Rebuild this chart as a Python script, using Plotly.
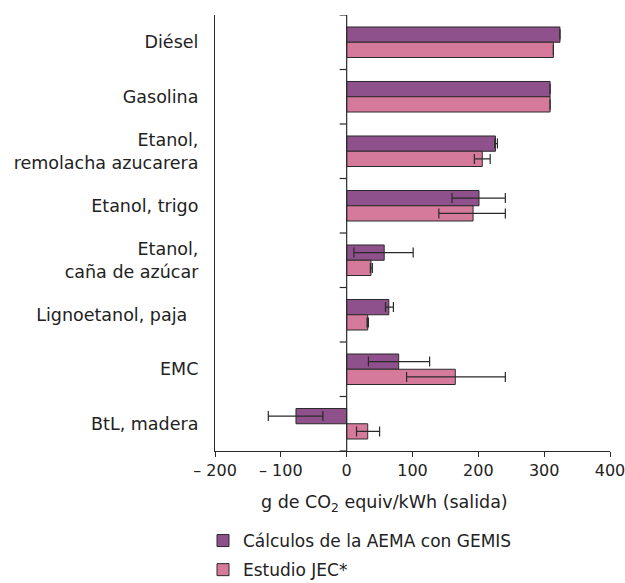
import plotly.graph_objects as go

# Categories, top to bottom
categories = [
    "Diésel",
    "Gasolina",
    "Etanol,<br>remolacha azucarera",
    "Etanol, trigo",
    "Etanol,<br>caña de azúcar",
    "Lignoetanol, paja\u00a0\u00a0",
    "EMC",
    "BtL, madera",
]

# g CO2 equiv/kWh (output)
aema_values = [324, 309, 226, 201, 57, 64, 79, -77]
aema_low = [324, 309, 225, 160, 11, 59, 33, -119]
aema_high = [324, 309, 229, 241, 101, 71, 126, -36]

jec_values = [314, 309, 206, 192, 37, 32, 165, 32]
jec_low = [314, 309, 194, 140, 36, 31, 91, 15]
jec_high = [314, 309, 218, 241, 39, 33, 241, 50]

x_tick_vals = [-200, -100, 0, 100, 200, 300, 400]
x_tick_text = ["– 200", "– 100", "0", "100", "200", "300", "400"]

series_names = ["Cálculos de la AEMA con GEMIS", "Estudio JEC*"]
colors = ["#8e518b", "#d67a9c"]
ink = "#2a2a2a"
font_family = "DejaVu Sans, Verdana, sans-serif"
label_size = 17.5


def err(values, low, high):
    plus = [h - v for v, h in zip(values, high)]
    minus = [v - l for v, l in zip(values, low)]
    show = any(p > 0 or m > 0 for p, m in zip(plus, minus))
    return dict(type="data", array=plus, arrayminus=minus, symmetric=False,
                color=ink, thickness=1.2, width=5, visible=show)


fig = go.Figure()
for name, vals, lo, hi, col in [
    (series_names[0], aema_values, aema_low, aema_high, colors[0]),
    (series_names[1], jec_values, jec_low, jec_high, colors[1]),
]:
    fig.add_trace(go.Bar(
        y=categories, x=vals, orientation="h", name=name, legendgroup=name,
        marker=dict(color=col, line=dict(color=ink, width=1)),
        error_x=err(vals, lo, hi),
    ))

# Zero line acting as the category axis, with ticks at category boundaries
n = len(categories)
fig.add_shape(type="line", xref="x", yref="y", x0=0, x1=0, y0=-0.5, y1=n - 0.5,
              line=dict(color=ink, width=1.2), layer="above")
for k in range(n + 1):
    fig.add_shape(type="line", xref="x", yref="y", xsizemode="pixel", xanchor=0,
                  x0=-7, x1=0, y0=k - 0.5, y1=k - 0.5,
                  line=dict(color=ink, width=1.2), layer="above")

fig.update_layout(
    width=625, height=583,
    margin=dict(l=215, r=15, t=15, b=132, autoexpand=False),
    paper_bgcolor="white", plot_bgcolor="white",
    barmode="group", bargap=0.44, bargroupgap=0,
    font=dict(family=font_family, size=label_size, color="#222222"),
    showlegend=True,
    legend=dict(
        xref="container", yref="container",
        x=203 / 625, xanchor="left", y=1 - 523 / 583, yanchor="top",
        orientation="v", traceorder="grouped",
        font=dict(size=17), itemwidth=30, tracegroupgap=4,
        bgcolor="rgba(0,0,0,0)",
    ),
    xaxis=dict(
        range=[-200, 400], tickvals=x_tick_vals, ticktext=x_tick_text,
        tickfont=dict(size=16), ticklabeloverflow="allow",
        showline=True, linecolor=ink, linewidth=1.2,
        ticks="outside", ticklen=5, tickcolor=ink, tickwidth=1.2,
        showgrid=False, zeroline=False,
    ),
    yaxis=dict(
        type="category", categoryarray=categories, categoryorder="array",
        range=[n - 0.5, -0.5],
        showline=True, linecolor=ink, linewidth=1.2,
        ticks="", ticklabelstandoff=12, showgrid=False, zeroline=False,
    ),
    annotations=[dict(
        text="g de CO<sub>2</sub> equiv/kWh (salida)",
        xref="paper", yref="paper", x=0.43, y=-0.09,
        xanchor="center", yanchor="top", showarrow=False,
        font=dict(size=label_size),
    )],
)

fig.write_html("out.html")
